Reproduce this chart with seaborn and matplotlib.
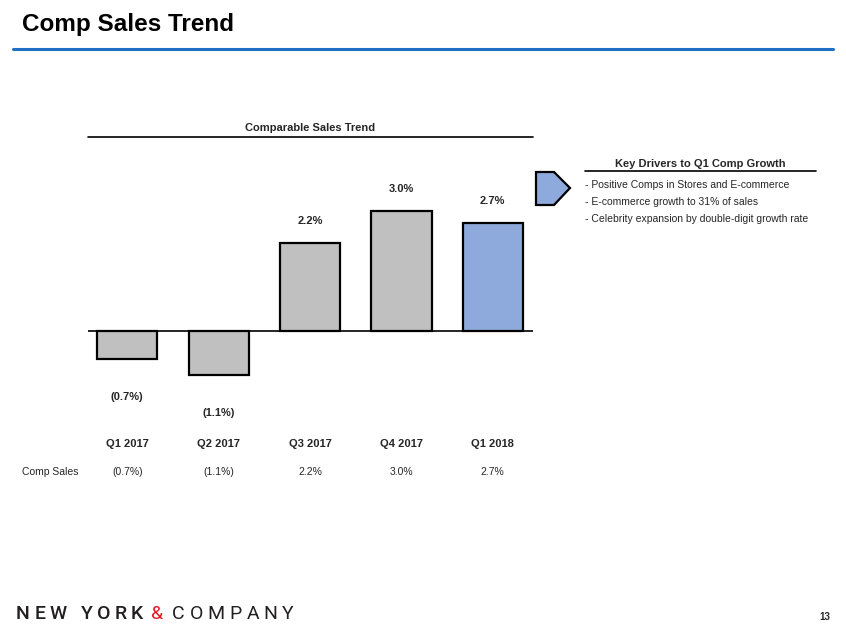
import numpy as np
import pandas as pd
import seaborn as sns
from matplotlib import pyplot as plt
from matplotlib.patches import Polygon

quarters = ['Q1 2017', 'Q2 2017', 'Q3 2017', 'Q4 2017', 'Q1 2018']
comp_sales = [-0.7, -1.1, 2.2, 3.0, 2.7]
bar_colors = ['#C0C0C0', '#C0C0C0', '#C0C0C0', '#C0C0C0', '#8EA9DB']
drivers = ['Positive Comps in Stores and E-commerce',
           'E-commerce growth to 31% of sales',
           'Celebrity expansion by double-digit growth rate']


def fmt(v):
    # negatives shown in brackets, like the deck
    return f'({abs(v):.1f}%)' if v < 0 else f'{v:.1f}%'


sns.set_theme(style='white')
plt.rcParams['font.family'] = ['Liberation Sans', 'DejaVu Sans']

df = pd.DataFrame({'quarter': quarters, 'comp': comp_sales})

fig = plt.figure(figsize=(8.46, 6.35), dpi=100)
W, H = 846, 635

def fx(px):
    return px / W

def fy(py):
    return 1 - py / H

# header
fig.text(fx(22), fy(25), 'Comp Sales Trend', fontsize=17.5, fontweight='bold', va='center', ha='left', color='black')
fig.add_artist(plt.Line2D([fx(13), fx(833)], [fy(49), fy(49)], color='#1F6FC5', lw=2.2))

# bar chart
ax = fig.add_axes([fx(88), fy(430), fx(533) - fx(88), fy(140) - fy(430)])
sns.barplot(data=df, x='quarter', y='comp', hue='quarter', palette=bar_colors, legend=False,
            width=0.66, edgecolor='black', linewidth=1.6, saturation=1, ax=ax)
ax.set_xlim(-0.43, 4.44)
ax.set_ylim(-2.475, 4.775)
ax.axhline(0, color='black', lw=1.2)
ax.axis('off')

for i, v in enumerate(comp_sales):
    off = 22 if v >= 0 else -38
    ax.annotate(fmt(v), (i, v), xytext=(0, off), textcoords='offset pixels',
                ha='center', va='center', fontsize=8, fontweight='bold')

# chart title + rule
fig.text(fx(310), fy(128), 'Comparable Sales Trend', fontsize=8, fontweight='bold', ha='center', va='center')
fig.add_artist(plt.Line2D([fx(88), fx(533)], [fy(137), fy(137)], color='black', lw=1.2))

# table rows under the bars
for i, (q, v) in enumerate(zip(quarters, comp_sales)):
    xd = ax.transData.transform((i, 0))[0] / W
    fig.text(xd, fy(444), q, fontsize=8, fontweight='bold', ha='center', va='center')
    fig.text(xd, fy(472), fmt(v), fontsize=7.5, ha='center', va='center')
fig.text(fx(22), fy(472), 'Comp Sales', fontsize=7.5, ha='left', va='center')

# key drivers box
arrow = Polygon([[fx(536), fy(172)], [fx(554), fy(172)], [fx(570), fy(188)], [fx(554), fy(205)], [fx(536), fy(205)]],
                closed=True, facecolor='#8EA9DB', edgecolor='black', lw=1.6, transform=fig.transFigure)
fig.add_artist(arrow)
fig.text(fx(700), fy(164), 'Key Drivers to Q1 Comp Growth', fontsize=8, fontweight='bold', ha='center', va='center')
fig.add_artist(plt.Line2D([fx(585), fx(816)], [fy(171), fy(171)], color='black', lw=1.2))
for k, d in enumerate(drivers):
    fig.text(fx(585), fy(185 + 17 * k), '- ' + d, fontsize=7.5, ha='left', va='center')

# footer logo, letter-spaced
renderer = fig.canvas.get_renderer()

def spaced(x0, x1, s, **kw):
    # spread the letters of s evenly between x0 and x1 (pixels)
    widths = []
    for ch in s:
        t = fig.text(0, 0, ch if ch != ' ' else 'I', **kw)
        widths.append(t.get_window_extent(renderer).width)
        t.remove()
    gap = (x1 - x0 - sum(widths)) / (len(s) - 1)
    x = x0
    for ch, w in zip(s, widths):
        if ch != ' ':
            fig.text(fx(x), fy(614), ch, ha='left', va='center', **kw)
        x += w + gap

spaced(16, 143, 'NEW YORK', fontsize=14, family=['Roboto', 'Liberation Sans'], fontweight='medium', color='#231F20')
fig.text(fx(151), fy(614), '&', fontsize=14, ha='left', va='center', color='#E31B23',
         family=['Roboto', 'Liberation Sans'])
spaced(172, 294, 'COMPANY', fontsize=14, family=['Roboto', 'Liberation Sans'], fontweight='normal', color='#231F20')
fig.text(fx(825), fy(617), '13', fontsize=7, fontweight='bold', ha='center', va='center')

fig.savefig('out.png', dpi=100)
